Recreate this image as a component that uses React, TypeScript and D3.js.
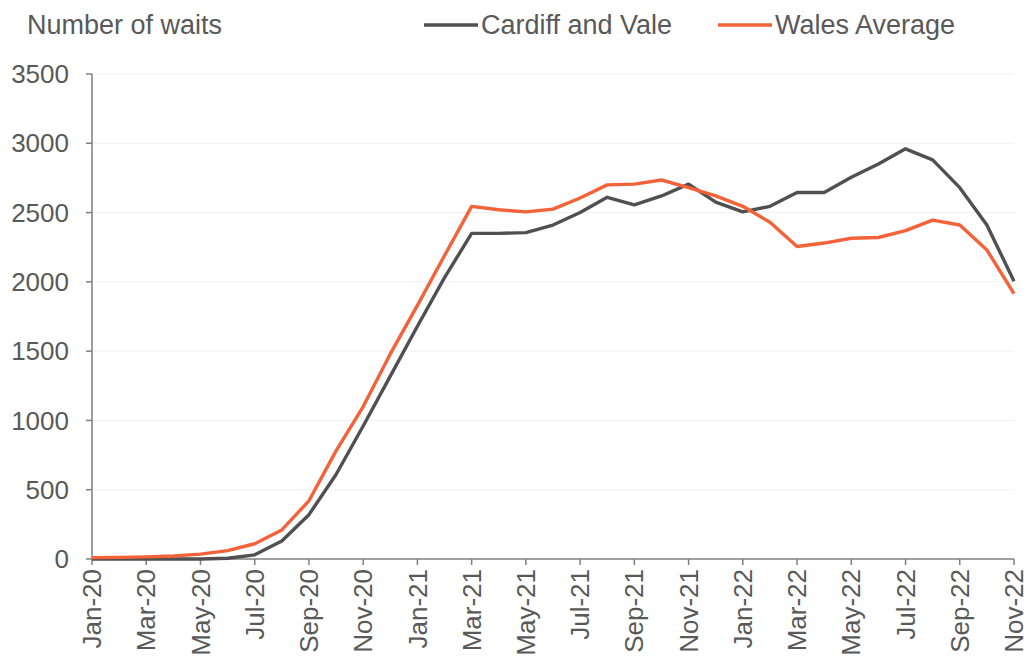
import React from "react";
import * as d3 from "d3";

const months: string[] = [
  "Jan-20","Feb-20","Mar-20","Apr-20","May-20","Jun-20","Jul-20","Aug-20","Sep-20","Oct-20","Nov-20","Dec-20",
  "Jan-21","Feb-21","Mar-21","Apr-21","May-21","Jun-21","Jul-21","Aug-21","Sep-21","Oct-21","Nov-21","Dec-21",
  "Jan-22","Feb-22","Mar-22","Apr-22","May-22","Jun-22","Jul-22","Aug-22","Sep-22","Oct-22","Nov-22",
];

const cardiffAndVale: number[] = [
  0, 0, 0, 0, 0, 5, 30, 130, 320, 610, 960, 1320,
  1680, 2030, 2350, 2350, 2355, 2410, 2500, 2610, 2555, 2620, 2705, 2575,
  2505, 2545, 2645, 2645, 2755, 2850, 2960, 2880, 2680, 2410, 2005,
];

const walesAverage: number[] = [
  10, 12, 15, 22, 35, 60, 110, 210, 420, 780, 1100, 1480,
  1830, 2190, 2545, 2520, 2505, 2525, 2605, 2700, 2705, 2735, 2680, 2620,
  2545, 2430, 2255, 2280, 2315, 2320, 2370, 2445, 2410, 2230, 1915,
];

const yTicks: number[] = [0, 500, 1000, 1500, 2000, 2500, 3000, 3500];

const seriesNames = ["Cardiff and Vale", "Wales Average"];
const seriesColors = ["#505050", "#f4623a"];

export default function App() {
  const W = 1027, H = 662;
  const left = 92, right = 1014, top = 74, bottom = 559;
  const x = d3.scaleLinear().domain([0, months.length - 1]).range([left, right]);
  const y = d3.scaleLinear().domain([0, 3500]).range([bottom, top]);
  const line = d3.line<number>().x((_, i) => x(i)).y((d) => y(d));
  const font = "'Liberation Sans', Arial, sans-serif";
  const textColor = "#595959";
  const fs = 26;
  const fsLegend = 27;
  const series = [cardiffAndVale, walesAverage];
  const legendX = [424, 718];

  return (
    <svg width={W} height={H} style={{ position: "absolute", left: 0, top: 0, background: "#fff" }} fontFamily={font}>
      {yTicks.map((t) => (
        <g key={t}>
          {t > 0 && <line x1={left} x2={right} y1={y(t)} y2={y(t)} stroke="#f0f0f0" strokeWidth={1} />}
          <line x1={left - 6} x2={left} y1={y(t)} y2={y(t)} stroke="#7f7f7f" strokeWidth={1.5} />
          <text x={69} y={y(t)} dy="0.35em" textAnchor="end" fontSize={fs} fill={textColor}>{t}</text>
        </g>
      ))}
      <line x1={left} x2={left} y1={top} y2={bottom} stroke="#7f7f7f" strokeWidth={1.5} />
      <line x1={left} x2={right} y1={bottom} y2={bottom} stroke="#7f7f7f" strokeWidth={1.5} />
      {months.map((m, i) => i % 2 === 0 ? (
        <g key={m}>
          <line x1={x(i)} x2={x(i)} y1={bottom} y2={bottom + 6} stroke="#7f7f7f" strokeWidth={1.5} />
          <text transform={`translate(${x(i)},${bottom + 10}) rotate(-90)`} dy="0.35em" textAnchor="end" fontSize={fs} fill={textColor}>{m}</text>
        </g>
      ) : null)}
      {series.map((s, k) => (
        <path key={k} d={line(s) || ""} fill="none" stroke={seriesColors[k]} strokeWidth={3.4} strokeLinejoin="round" />
      ))}
      <text x={27} y={25} dy="0.35em" fontSize={fsLegend} fill={textColor}>Number of waits</text>
      {seriesNames.map((n, k) => (
        <g key={n}>
          <line x1={legendX[k]} x2={legendX[k] + 54} y1={25} y2={25} stroke={seriesColors[k]} strokeWidth={3.5} />
          <text x={legendX[k] + 57} y={25} dy="0.35em" fontSize={fsLegend} fill={textColor}>{n}</text>
        </g>
      ))}
    </svg>
  );
}
